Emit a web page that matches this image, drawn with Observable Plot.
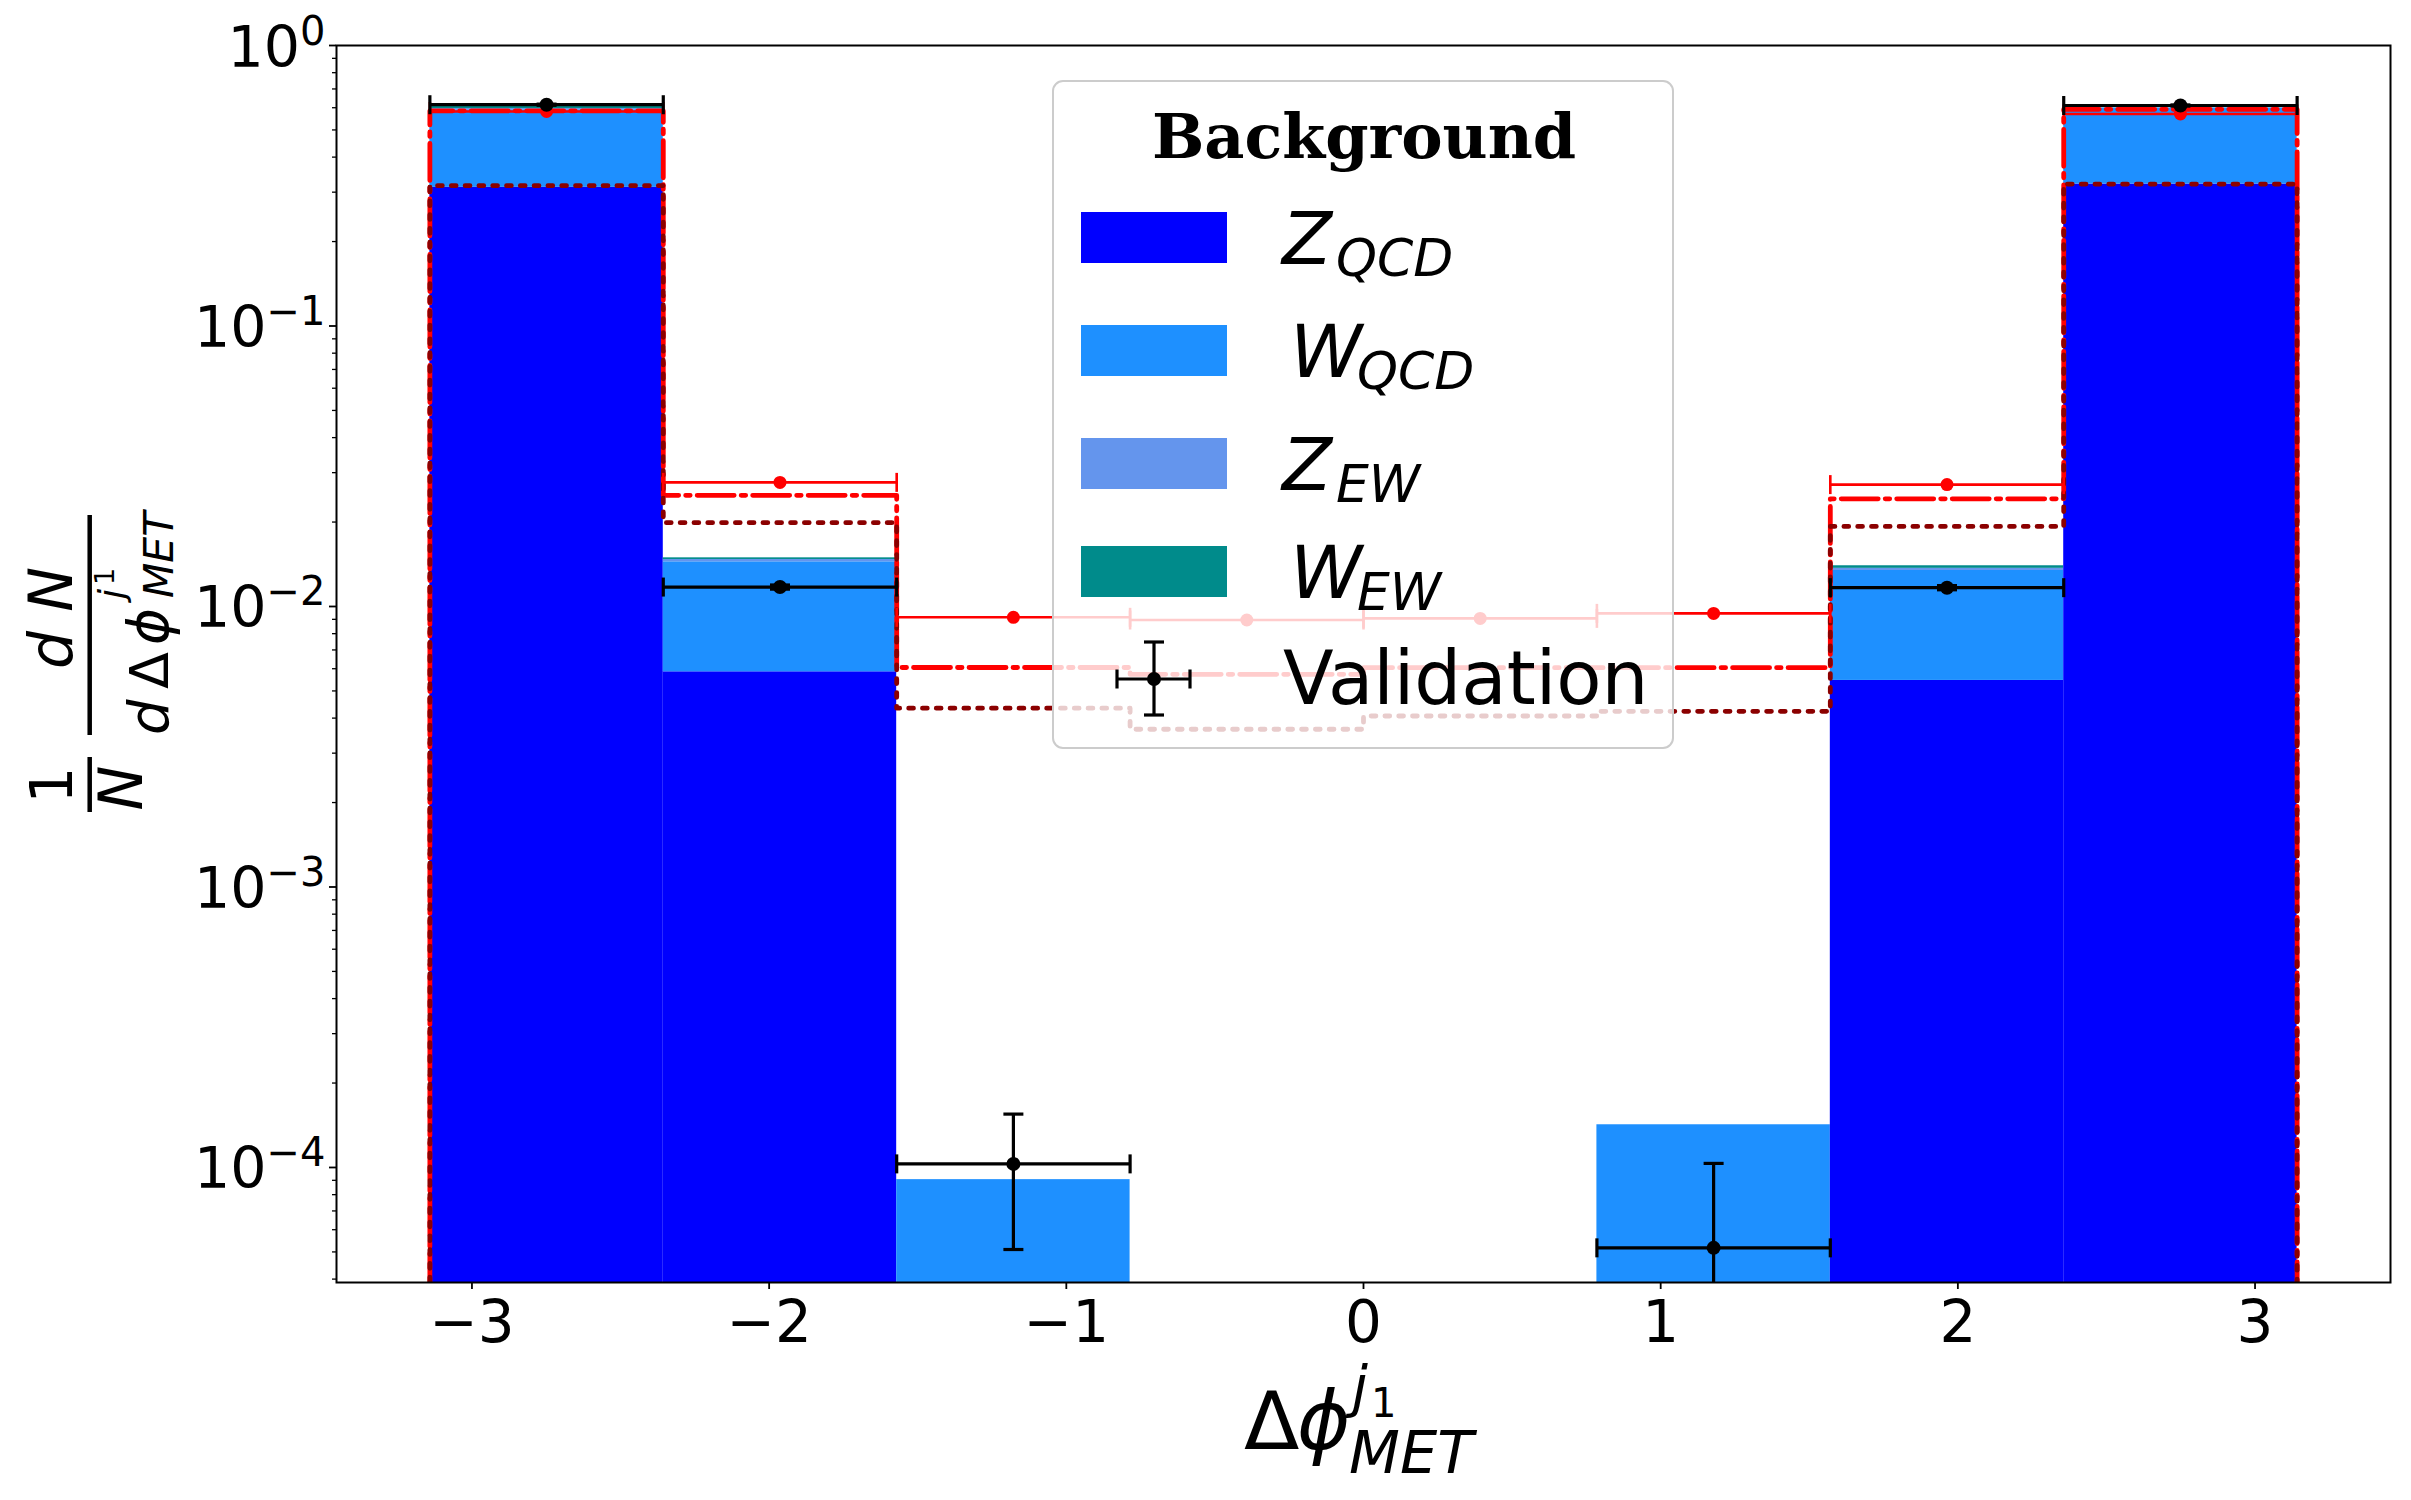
<!DOCTYPE html>
<html><head><meta charset="utf-8">
<script src="https://cdn.jsdelivr.net/npm/d3@7"></script>
<script src="https://cdn.jsdelivr.net/npm/@observablehq/plot@0.6"></script>
<style>html,body{margin:0;padding:0;background:#fff;} svg{display:block}</style>
</head><body><div id="chart"></div>
<script>
// ---- data ----
const binEdges = [-3.1416, -2.3562, -1.5708, -0.7854, 0, 0.7854, 1.5708, 2.3562, 3.1416];
const zQCD = [0.312, 0.00585, 0, 0, 0, 0, 0.00545, 0.3206];
const wQCD = [0.275, 0.00858, 0.0000905, 0, 0, 0.000142, 0.00799, 0.2774];
const zEW  = [0.009, 0.00028, 0, 0, 0, 0, 0.00024, 0.001];
const wEW  = [0.014, 0.0002, 0, 0, 0, 0, 0.00029, 0.001];
const validation    = [0.615, 0.01173, 0.000103, 0, 0, 0.0000517, 0.01167, 0.611];
const validationErr = [0.003, 0.0002, 0.000052, 0, 0, 0.0000517, 0.0002, 0.003];
const signalSolid   = [0.582, 0.0277, 0.00915, 0.00895, 0.00907, 0.00945, 0.0272, 0.570];
const signalDashDot = [0.585, 0.0249, 0.00606, 0.00573, 0.00605, 0.00605, 0.0242, 0.592];
const signalDotted  = [0.3163, 0.0199, 0.00434, 0.00365, 0.00407, 0.00423, 0.0193, 0.3206];
const xTicks = [-3, -2, -1, 0, 1, 2, 3];
const yMajor = [1e-4, 1e-3, 1e-2, 1e-1, 1];
const yMinor = [4e-5,5e-5,6e-5,7e-5,8e-5,9e-5,
  2e-4,3e-4,4e-4,5e-4,6e-4,7e-4,8e-4,9e-4,
  2e-3,3e-3,4e-3,5e-3,6e-3,7e-3,8e-3,9e-3,
  2e-2,3e-2,4e-2,5e-2,6e-2,7e-2,8e-2,9e-2,
  0.2,0.3,0.4,0.5,0.6,0.7,0.8,0.9];
const layerNames = ["Z_QCD", "W_QCD", "Z_EW", "W_EW"];
const layerValues = [zQCD, wQCD, zEW, wEW];
const layerColors = ["#0000ff", "#1e90ff", "#6495ed", "#008b8b"];

const FLOOR = 1e-8;

// ---- derived tables ----
const rects = [];
for (let i = 0; i < 8; i++) {
  let base = 0;
  layerValues.forEach((vals, k) => {
    const v = vals[i];
    if (v > 0) rects.push({x1: binEdges[i], x2: binEdges[i+1], y1: base > 0 ? base : FLOOR, y2: base + v, fill: layerColors[k]});
    base += v;
  });
}
function stepPoints(vals) {
  const pts = [{x: binEdges[0], y: FLOOR}];
  vals.forEach((v, i) => { pts.push({x: binEdges[i], y: v}); pts.push({x: binEdges[i+1], y: v}); });
  pts.push({x: binEdges[8], y: FLOOR});
  return pts;
}
const bins = d3.range(8).map(i => ({lo: binEdges[i], hi: binEdges[i+1], c: (binEdges[i] + binEdges[i+1]) / 2}));
const solidRows = bins.map((b, i) => ({...b, v: signalSolid[i]}));
const valRows = bins.map((b, i) => ({...b, v: validation[i], e: validationErr[i]})).filter(d => d.v > 0)
  .map(d => ({...d, ylo: d.v - d.e > 0 ? d.v - d.e : FLOOR, yhi: d.v + d.e, hasLo: d.v - d.e > 0}));

const vbar = {draw(ctx, size) { const h = Math.sqrt(size / Math.PI); ctx.moveTo(0, -h); ctx.lineTo(0, h); }};
const hbar = {draw(ctx, size) { const h = Math.sqrt(size / Math.PI); ctx.moveTo(-h, 0); ctx.lineTo(h, 0); }};

const capEnds = rows => rows.flatMap(d => [{x: d.lo, y: d.v}, {x: d.hi, y: d.v}]);

const svg = Plot.plot({
  width: 2411, height: 1500,
  marginLeft: 336, marginRight: 21, marginTop: 45, marginBottom: 218,
  x: {domain: [-3.4558, 3.4558], label: null},
  y: {type: "log", domain: [3.89e-5, 1], label: null},
  style: {fontFamily: "DejaVu Sans", background: "white", color: "black", overflow: "visible"},
  marks: [
    Plot.rect(rects, {x1: "x1", x2: "x2", y1: "y1", y2: "y2", fill: "fill", clip: true}),
    Plot.line(stepPoints(signalDashDot), {x: "x", y: "y", stroke: "red", strokeWidth: 4.8, strokeDasharray: "37,7,4.5,7", clip: true}),
    Plot.line(stepPoints(signalDotted), {x: "x", y: "y", stroke: "#8b0000", strokeWidth: 4.8, strokeDasharray: "4.8,9", clip: true}),
    // red errorbar series
    Plot.link(solidRows, {x1: "lo", x2: "hi", y1: "v", y2: "v", stroke: "red", strokeWidth: 2.6, clip: true}),
    Plot.dot(capEnds(solidRows), {x: "x", y: "y", symbol: vbar, r: 9.5, stroke: "red", strokeWidth: 2.6, fill: "none"}),
    Plot.dot(solidRows, {x: "c", y: "v", r: 6.5, fill: "red", stroke: "none"}),
    // validation
    Plot.link(valRows, {x1: "lo", x2: "hi", y1: "v", y2: "v", stroke: "black", strokeWidth: 3.2, clip: true}),
    Plot.link(valRows, {x1: "c", x2: "c", y1: "ylo", y2: "yhi", stroke: "black", strokeWidth: 3.2, clip: true}),
    Plot.dot(capEnds(valRows), {x: "x", y: "y", symbol: vbar, r: 9.5, stroke: "black", strokeWidth: 3.2, fill: "none"}),
    Plot.dot(valRows, {x: "c", y: "yhi", symbol: hbar, r: 10, stroke: "black", strokeWidth: 3.2, fill: "none"}),
    Plot.dot(valRows.filter(d => d.hasLo), {x: "c", y: "ylo", symbol: hbar, r: 10, stroke: "black", strokeWidth: 3.2, fill: "none"}),
    Plot.dot(valRows, {x: "c", y: "v", r: 7, fill: "black", stroke: "none"}),
    Plot.frame({stroke: "black", strokeWidth: 2}),
    Plot.axisX({ticks: xTicks, tickSize: 7, tickPadding: 11, fontSize: 58, strokeWidth: 1.8, label: null,
      tickFormat: d => d < 0 ? "\u2212" + Math.abs(d) : String(d)}),
    Plot.axisY({ticks: yMajor, tickSize: 7, tickPadding: 4, fontSize: 57, strokeWidth: 1.8, label: null,
      tickFormat: d => { const e = Math.round(Math.log10(d)); return "10^" + (e < 0 ? "\u2212" + (-e) : String(e)); }}),
    Plot.axisY({ticks: yMinor, tickSize: 4, strokeWidth: 1.3, label: null, tickFormat: () => ""})
  ]
});

// y tick labels with superscripts
d3.select(svg).selectAll('g[aria-label="y-axis tick label"] text').each(function() {
  const s = this.textContent; const idx = s.indexOf("^"); if (idx < 0) return;
  const t = d3.select(this);
  t.text(null).attr("y", 21);
  t.append("tspan").text(s.slice(0, idx));
  t.append("tspan").attr("dy", -22).attr("font-size", 40).text(s.slice(idx + 1));
});

const S = d3.select(svg);
const fam = "DejaVu Sans";
function txt(g, str, x, y, size, opts = {}) {
  const t = g.append("text").attr("x", x).attr("y", y).attr("font-size", size).attr("font-family", opts.family || fam)
    .attr("fill", "black").attr("text-anchor", opts.anchor || "start").text(str);
  if (opts.italic) t.attr("font-style", "italic");
  if (opts.bold) t.attr("font-weight", "bold");
  if (opts.transform) t.attr("transform", opts.transform);
  return t;
}

// x label
const xl = S.append("g");
txt(xl, "\u0394", 1244, 1449, 81);
txt(xl, "\u03d5", 1297, 1449, 81, {italic: true});
txt(xl, "j", 1352, 1406, 57, {italic: true});
txt(xl, "1", 1371, 1417, 40);
txt(xl, "MET", 1349, 1473, 59, {italic: true});

// y label (rotated)
const yl = S.append("g");
const R = "rotate(-90)";
txt(yl, "1", -785, 72, 58, {anchor: "middle", transform: R});
txt(yl, "N", -788, 142, 60, {anchor: "middle", italic: true, transform: R});
yl.append("line").attr("x1", 89.7).attr("x2", 89.7).attr("y1", 757).attr("y2", 812).attr("stroke", "black").attr("stroke-width", 4.5);
txt(yl, "d N", -618, 72, 60, {anchor: "middle", italic: true, transform: R});
yl.append("line").attr("x1", 89.7).attr("x2", 89.7).attr("y1", 515).attr("y2", 735).attr("stroke", "black").attr("stroke-width", 4.5);
txt(yl, "d", -735, 168, 56, {italic: true, transform: R});
txt(yl, "\u0394", -689, 168, 54, {transform: R});
txt(yl, "\u03d5", -645, 168, 56, {italic: true, transform: R});
txt(yl, "j", -599, 124, 36, {italic: true, transform: R});
txt(yl, "1", -585, 114, 27, {transform: R});
txt(yl, "MET", -598, 173, 41, {italic: true, transform: R});

// legend
const lg = S.append("g");
lg.append("rect").attr("x", 1053).attr("y", 81).attr("width", 620).attr("height", 667).attr("rx", 10)
  .attr("fill", "white").attr("fill-opacity", 0.8).attr("stroke", "#cccccc").attr("stroke-width", 2);
txt(lg, "Background", 1364, 157.5, 62, {anchor: "middle", bold: true, family: "DejaVu Serif"});
const patchY = [212, 325, 438, 546];
const mainX = [1282, 1290, 1282, 1290];
const subX = [1336, 1357, 1336, 1357];
layerNames.forEach((name, k) => {
  lg.append("rect").attr("x", 1081).attr("y", patchY[k]).attr("width", 146).attr("height", 51).attr("fill", layerColors[k]);
  const [m, sub] = name.split("_");
  const base = patchY[k] + 52;
  txt(lg, m, mainX[k], base, 73, {italic: true});
  txt(lg, sub, subX[k], base + 12, 52, {italic: true});
});
// validation legend marker
const ln = (x1, y1, x2, y2) => lg.append("line").attr("x1", x1).attr("y1", y1).attr("x2", x2).attr("y2", y2).attr("stroke", "black").attr("stroke-width", 3.2);
ln(1154, 642, 1154, 715); ln(1144, 642, 1164, 642); ln(1144, 715, 1164, 715);
ln(1117, 679, 1190, 679); ln(1117, 669.5, 1117, 688.5); ln(1190, 669.5, 1190, 688.5);
lg.append("circle").attr("cx", 1154).attr("cy", 679).attr("r", 7).attr("fill", "black");
txt(lg, "Validation", 1283, 704, 74);

document.getElementById("chart").appendChild(svg);
</script>
</body></html>
